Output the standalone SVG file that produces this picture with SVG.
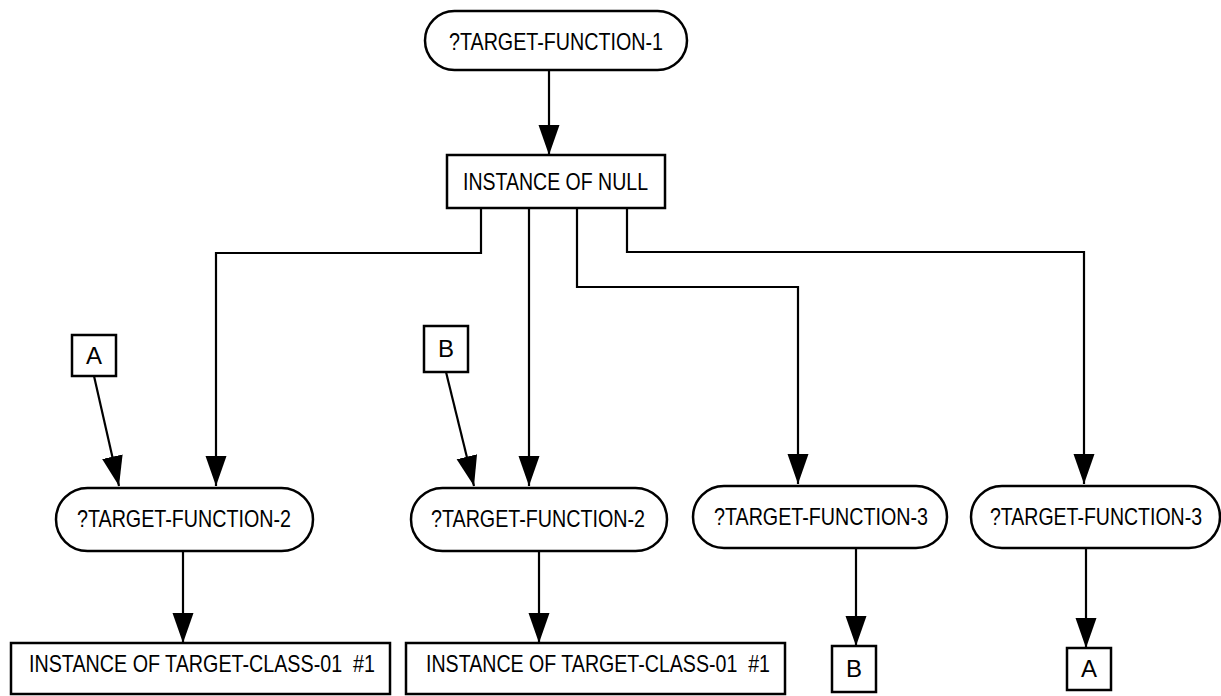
<svg xmlns="http://www.w3.org/2000/svg" width="1221" height="696" viewBox="0 0 1221 696">
<style>
.n{fill:#fff;stroke:#000;stroke-width:2.5}
.t{font-family:"Liberation Sans Narrow","Liberation Sans",Arial,sans-serif;font-size:24px;fill:#000;text-anchor:middle}
.s{font-family:"Liberation Sans Narrow","Liberation Sans",Arial,sans-serif;font-size:24px;fill:#000;text-anchor:middle}
.c{fill:none;stroke:#000;stroke-width:2.2;marker-end:url(#ah)}
</style>
<defs>
<marker id="ah" markerUnits="userSpaceOnUse" markerWidth="30" markerHeight="22" refX="30" refY="10.5" orient="auto">
<path d="M0,0 L30,10.5 L0,21 z" fill="#000"/>
</marker>
</defs>
<rect width="1221" height="696" fill="#fff"/>
<g id="connectors">
<path class="c" d="M549,70 V155"/>
<path class="c" d="M481,208 V253 H216 V486"/>
<path class="c" d="M529,208 V486"/>
<path class="c" d="M577,208 V287 H798 V484"/>
<path class="c" d="M627,208 V252 H1084 V484"/>
<path class="c" d="M94,376 L119,486"/>
<path class="c" d="M446,372 L474,486"/>
<path class="c" d="M183,551 V643"/>
<path class="c" d="M539,551 V643"/>
<path class="c" d="M856,548 V646"/>
<path class="c" d="M1086,548 V648"/>
</g>
<g id="tf1">
<rect class="n" x="425" y="11" width="262" height="59" rx="29.5"/>
<text class="t" x="556" y="50" textLength="214" lengthAdjust="spacingAndGlyphs">?TARGET-FUNCTION-1</text>
</g>
<g id="null">
<rect class="n" x="447" y="155" width="218" height="53"/>
<text class="t" x="555.5" y="190" textLength="185" lengthAdjust="spacingAndGlyphs">INSTANCE OF NULL</text>
</g>
<g id="refA1">
<rect class="n" x="72" y="335" width="44" height="41"/>
<text class="s" x="94" y="364">A</text>
</g>
<g id="refB1">
<rect class="n" x="424" y="326" width="44" height="46"/>
<text class="s" x="446" y="357">B</text>
</g>
<g id="tf2a">
<rect class="n" x="56" y="488" width="257" height="63" rx="31.5"/>
<text class="t" x="184" y="527" textLength="214" lengthAdjust="spacingAndGlyphs">?TARGET-FUNCTION-2</text>
</g>
<g id="tf2b">
<rect class="n" x="411" y="488" width="256" height="63" rx="31.5"/>
<text class="t" x="538" y="527" textLength="214" lengthAdjust="spacingAndGlyphs">?TARGET-FUNCTION-2</text>
</g>
<g id="tf3a">
<rect class="n" x="693" y="486" width="254" height="62" rx="31"/>
<text class="t" x="821" y="525" textLength="214" lengthAdjust="spacingAndGlyphs">?TARGET-FUNCTION-3</text>
</g>
<g id="tf3b">
<rect class="n" x="971" y="486" width="249" height="62" rx="31"/>
<text class="t" x="1096" y="525" textLength="212" lengthAdjust="spacingAndGlyphs">?TARGET-FUNCTION-3</text>
</g>
<g id="inst1">
<rect class="n" x="11" y="643" width="379" height="51"/>
<text class="t" x="202" y="672" textLength="346" lengthAdjust="spacingAndGlyphs" xml:space="preserve">INSTANCE OF TARGET-CLASS-01  #1</text>
</g>
<g id="inst2">
<rect class="n" x="406" y="643" width="379" height="51"/>
<text class="t" x="598" y="672" textLength="344" lengthAdjust="spacingAndGlyphs" xml:space="preserve">INSTANCE OF TARGET-CLASS-01  #1</text>
</g>
<g id="refB2">
<rect class="n" x="832" y="646" width="44" height="46"/>
<text class="s" x="854" y="677">B</text>
</g>
<g id="refA2">
<rect class="n" x="1067" y="648" width="44" height="42"/>
<text class="s" x="1089" y="677">A</text>
</g>
</svg>
